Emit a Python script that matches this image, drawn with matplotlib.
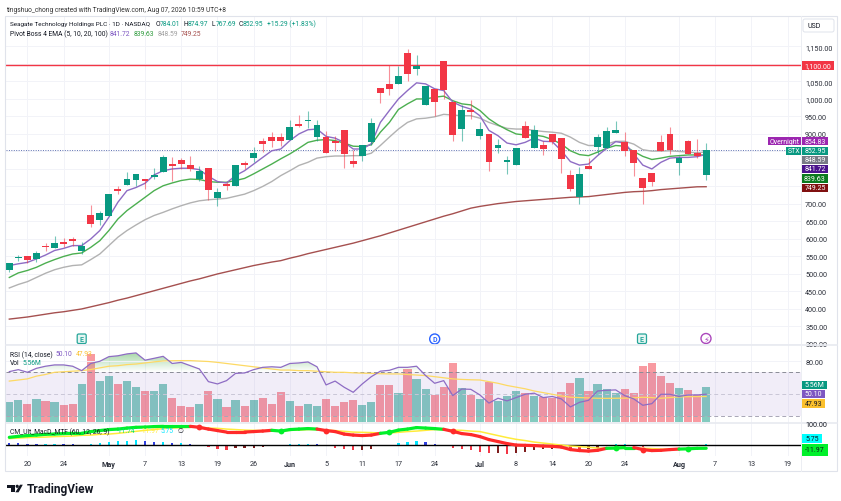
import numpy as np
import matplotlib
matplotlib.use('Agg')
import matplotlib.pyplot as plt
from matplotlib.collections import LineCollection
from matplotlib.colors import LinearSegmentedColormap
from matplotlib.patches import Rectangle, Polygon, Circle, FancyBboxPatch
from matplotlib.path import Path
from matplotlib.ticker import FuncFormatter, StrMethodFormatter

plt.rcParams['font.family'] = ['Roboto', 'DejaVu Sans']

W, H = 841, 502
GREEN = '#089981'
RED = '#f23645'
GRID = '#f2f3f8'
TXT = '#131722'
LEG = 4.85

opens = [512,545,551,543,577,574,592,600,565,668,655,665,743,753,769,770,778,792,814,826,811,771,802,718,757,752,817,830,880,890,892,883,929,938,890,890,881,910,822,837,877,1030,1043,1042,1132,1086,983,1029,1109,992,915,969,895,900,861,819,810,922,860,869,901,888,783,720,808,863,860,904,878,854,773,788,878,900,816,880,846,784.01]
highs = [532,554,551,567,588,608,602,605,590,698,680,728,752,791,786,770,803,840,833,831,838,808,802,745,764,811,824,862,888,905,903,940,954,966,941,909,893,910,854,868,946,1030,1097,1093,1143,1126,1037,1029,1109,992,983,997,935,900,886,837,860,936,927,881,901,888,798,807,830,900,919,937,905,854,773,788,897,921,838,884,886,874.97]
lows = [507,538,531,535,565,574,576,581,557,633,640,665,728,753,752,743,771,792,767,800,795,767,711,695,741,752,800,819,848,862,865,883,919,918,881,847,852,802,806,822,869,989,1011,1042,1052,1069,983,950,1000,881,881,943,886,795,846,786,810,889,860,840,870,789,738,700,800,843,860,904,836,781,700,750,850,843,784,843,831,767.69]
closes = [531,549,540,559,576,589,586,595,579,642,673,728,737,770,786,766,783,834,809,815,800,794,740,733,750,811,811,846,870,879,879,920,924,940,926,847,875,844,815,868,930,1017,1029,1066,1070,1093,1037,992,1025,897,968,963,914,819,868,826,860,889,910,858,876,828,742,787,800,891,909,912,850,816,746,763,850,854,831,843,836,852.95]

ema5 = [524,529,533,543,554,567,573,581,581,600,624,662,705,738,747,759,783,795,800,802,802,798,779,764,760,781,795,814,833,852,857,881,900,912,914,893,888,876,857,857,872,933,967,1000,1024,1046,1043,1029,1024,991,979,971,952,910,895,874,869,876,888,879,878,852,821,811,814,838,859,878,874,843,811,800,819,831,833,833,835,841.72]
ema10 = [490,503,510,519,531,541,550,557,560,576,595,624,657,681,700,719,738,752,760,767,771,770,764,762,762,767,773,786,800,814,829,843,859,876,882,884,881,874,865,864,869,905,933,970,986,1000,1000,1005,1008,995,986,983,967,943,926,912,900,897,897,893,884,871,852,841,838,848,859,867,865,850,836,827,831,836,838,840,840,839.63]
ema20 = [460,470,478,490,502,512,519,524,526,541,557,581,605,624,640,655,667,676,686,695,703,709,712,714,716,722,728,738,750,764,781,795,810,819,831,835,837,837,838,838,845,867,891,914,933,943,945,949,956,954,952,952,945,933,924,916,914,914,910,907,905,902,891,876,867,867,871,879,879,871,855,851,851,852,850,848,846,848.59]
ema100 = [371,374,377,381,385,389,392,396,400,406,412,418,425,431,438,445,452,459,466,473,480,486,493,500,506,512,518,524,529,534,538,545,551,558,564,570,576,582,588,595,602,609,617,625,633,641,649,657,665,672,680,688,693,697,701,704,707,709,711,713,715,717,719,720,721,724,727,730,733,735,736,738,741,743,745,747,749,749.25]

rsi = [70.6,72.4,70,73.6,75.5,76.7,76.7,75.5,71.5,78,80,84.2,85,86.7,87.6,81,82.7,84.5,78,79,76,73,61.5,59.4,62.4,69,69.4,72.4,74.5,75,74.5,78,78.5,79.4,75,58.5,62,56.4,51.8,59.4,66,71,71.8,74.5,74.5,75.5,67,60,62.4,48.8,54.8,54.5,49.4,42,46.4,44,47,50,51,47,48,45.8,38.5,42.7,44.5,53,53.6,54,48.8,45.8,40,41.5,50,50,48,49.4,49.4,50.10]
rsi_ma = [62,63,64,66.5,68,70,70.5,71,71.5,72.5,74,75.5,76,77,77.5,78.5,79.5,80.3,80.5,80.6,80.6,80.2,79.8,79,78,77,76,75,74,73,72,72,71.5,71.5,71,70.5,70,70,69.5,69.2,69,68.7,68.5,68.5,68,67.5,67,66,65,64,63.5,63.2,63,61.5,60,58,56.5,55,53,51.5,50,48.5,47.3,47,46.7,46.4,46.3,46.4,46.5,46.8,47.3,47,46.4,47,47.6,47.8,47.9,47.93]
volume = [3.15,3.46,2.94,3.67,3.31,3.2,2.73,2.94,5.98,10.76,6.46,7.3,6.04,6.46,5.56,4.94,4.94,6.04,3.83,2.57,2.42,2.89,4.94,3.67,2.36,3.52,2.57,3.52,3.83,2.89,4.73,3.36,2.57,2.94,2.57,3.67,2.52,3.2,3.52,2.73,3.2,5.83,5.83,4.62,8.4,6.82,5.25,4.36,5.56,9.29,5.41,4.3,3.67,6.35,3.41,4.15,4.94,4.62,4.1,3.94,3.83,4.78,6.2,6.98,4.88,6.04,5.25,4.62,5.25,4.67,8.93,9.29,7.35,6.2,5.41,5.09,4.36,5.56]

macd = [32,36,39,41,44,45,47,48,48,55,59,63,65,69,72,73,75,76,76,76,76,72,65,59,53,53,53,55,57,60,57,63,65,67,65,59,55,45,41,39,41,48,52,61,65,71,69,67,64,56,47,43,35,23,15,7,1,0,-1,-3,-4,-7,-17,-21,-23,-20,-12,-11,-9,-9,-17,-21,-20,-17,-15,-14,-12,-11.74]
signal = [27,29,31,32,33,35,36,37,40,41,44,45,48,52,56,60,63,67,69,71,72,73,69,68,65,63,61,60,59,60.5,56,60,61,63,63,61,59,56,53,52,51,49,49,52,55,57,60,63,63,61,60,57,55,47,39,31,24,19,13,9,5,1,-3,-5,-8,-11,-11.5,-12,-12,-12,-12,-13,-15,-15,-14.5,-14.5,-12.5,-11.97]
hist = [9.5,9,5,4,4.2,5,4,3.8,3,5,11,15,16,17,20,17,15,15,9,9,5,1,-5,-13,-17,-12,-12,-9,-5,-1,0,4,4.2,4.4,4,-3,-9,-13,-17,-17,-13,-4,3,9,13,17,15,5,0,-9,-15,-20,-25,-31,-31,-33,-31,-27,-20,-16,-15,-11,-15,-16,-16,-9,-3,4,5,0,-5,-4,-1,0,0,1,1,5.75]

date_pos = [2,6,11,15,19,23,27,31,35,39,43,47,52,56,60,64,68,74,78,82,86]
date_labels = ['20','24','May','7','13','19','26','Jun','5','11','17','24','Jul','8','14','20','24','Aug','7','13','19']
months = ['May', 'Jun', 'Jul', 'Aug']
price_ticks = list(range(300, 1151, 50))
hidden_ticks = [750, 800, 850, 1100]

x = np.arange(len(closes))
opens, highs, lows, closes = map(np.array, (opens, highs, lows, closes))
up = closes >= opens
candle_col = [GREEN if u else RED for u in up]


def make_axes(top, bottom):
    ax = fig.add_axes([6 / W, 1 - bottom / H, 795 / W, (bottom - top) / H])
    ax.set_xlim(-0.365, 87.48)
    ax.set_xticks(date_pos)
    ax.set_xticklabels([])
    ax.tick_params(length=0, labelsize=5.2, labelcolor='#2a2e39')
    ax.yaxis.tick_right()
    for s in ax.spines.values():
        s.set_visible(False)
    ax.grid(axis='x', color=GRID, lw=0.7)
    ax.set_axisbelow(True)
    return ax


def price_fmt(v, pos):
    return '' if v in hidden_ticks else f'{v:,.2f}'


fig = plt.figure(figsize=(W / 100, H / 100), dpi=100, facecolor='white')

# price pane
ax = make_axes(17, 346)
ax.set_ylim(297, 1237)
ax.set_yticks(price_ticks)
ax.yaxis.set_major_formatter(FuncFormatter(price_fmt))
ax.tick_params(axis='y', pad=3)
ax.grid(axis='y', color=GRID, lw=0.7)
ax.axhline(1098, color=RED, lw=1.0)
ax.axhline(852.95, color='#5d6fb0', lw=0.7, ls=(0, (1, 1.5)))
ax.plot(x, ema100, color='#a5504f', lw=1.0)
ax.plot(x, ema20, color='#b2b2b2', lw=1.0)
ax.plot(x, ema10, color='#4caf50', lw=1.0)
ax.plot(x, ema5, color='#8e6cc4', lw=1.0)
ax.vlines(x, lows, highs, colors=candle_col, lw=0.8, alpha=0.55, zorder=3)
ax.bar(x, np.maximum(np.abs(closes - opens), 3), bottom=np.minimum(opens, closes), width=0.76, color=candle_col, zorder=4)

# volume and rsi share a pane
vol_ax = make_axes(346, 424)
vol_ax.set_ylim(-0.1, 12.15)
vol_ax.set_yticks([])
vol_ax.bar(x, volume, width=0.9, color=candle_col, alpha=0.5, linewidth=0)

rsi_ax = make_axes(346, 424)
rsi_ax.patch.set_alpha(0)
rsi_ax.grid(False)
rsi_ax.set_ylim(23.9, 94.8)
rsi_ax.set_yticks([80])
rsi_ax.yaxis.set_major_formatter(StrMethodFormatter('{x:,.2f}'))
rsi_ax.tick_params(axis='y', pad=3)
rsi_ax.axhline(80, color=GRID, lw=0.7)
rsi_ax.axhspan(30, 70, color='#7e57c2', alpha=0.1, lw=0)
for lev, c in [(70, '#8a8c96'), (50, '#c9c6d6'), (30, '#a8a6b6')]:
    rsi_ax.axhline(lev, color=c, lw=0.7, ls=(0, (4, 3)))
rsi_arr = np.array(rsi)
poly = rsi_ax.fill_between(x, rsi_arr, 70, where=rsi_arr >= 70, interpolate=True, color='none')
cm = LinearSegmentedColormap.from_list('g', [(0.30, 0.69, 0.31, 0.0), (0.30, 0.69, 0.31, 0.5)])
im = rsi_ax.imshow(np.linspace(0, 1, 64).reshape(-1, 1), extent=[-0.4, 88, 70, 88], origin='lower', aspect='auto', cmap=cm)
im.set_clip_path(Path.make_compound_path(*poly.get_paths()), transform=rsi_ax.transData)
rsi_ax.set_xlim(-0.365, 87.48)
rsi_ax.set_ylim(23.9, 94.8)
rsi_ax.plot(x, rsi_ma, color='#fdd964', lw=0.9)
rsi_ax.plot(x, rsi, color='#8e6cc4', lw=0.9)

# macd pane
m_ax = make_axes(424, 457)
m_ax.set_ylim(-42.7, 89.3)
m_ax.set_yticks([])
m_ax.set_xticklabels(date_labels)
m_ax.tick_params(axis='x', pad=3)
for t in m_ax.get_xticklabels():
    if t.get_text() in months:
        t.set_fontweight('bold')
h_col = []
for i, v in enumerate(hist):
    rising = i > 0 and v >= hist[i - 1]
    if v >= 0:
        h_col.append('#00e5ff' if rising else '#2f3fe0')
    else:
        h_col.append('#7f1d1d' if rising else '#f23645')
m_ax.bar(x, hist, width=0.25, color=h_col)
m_ax.axhline(0, color='black', lw=1.0)
m_ax.plot(x, signal, color='#ffeb3b', lw=1.1)
state = np.array(macd) >= np.array(signal)
pts = np.column_stack([x, macd])
segs = np.stack([pts[:-1], pts[1:]], axis=1)
m_ax.add_collection(LineCollection(segs, colors=['#00f02a' if s else '#ff2a2a' for s in state[1:]], linewidths=2.3, capstyle='round'))
for i in range(1, len(x)):
    if state[i] != state[i - 1]:
        m_ax.plot(x[i], macd[i], 'o', ms=4.2, color='#00f02a' if state[i] else '#ff2a2a', mec='none')

# everything fixed to the layout goes on a pixel overlay
ov = fig.add_axes([0, 0, 1, 1], zorder=10)
ov.set_xlim(0, W)
ov.set_ylim(H, 0)
ov.axis('off')
ov.add_patch(Rectangle((5.5, 17), 832, 455, fill=False, ec='#e0e3eb', lw=0.8))
ov.plot([6, 837], [346, 346], color='#e8eaf0', lw=1.2)
ov.plot([6, 837], [424, 424], color='#e8eaf0', lw=1.2)
ov.plot([801, 801], [17, 472], color='#eceef3', lw=0.7)


def label(px, py, s, color=TXT, size=LEG, **kw):
    ov.text(px, py, s, color=color, fontsize=size, va='center', ha='left', **kw)


def tag(x0, x1, y0, y1, s, bg, fg='white'):
    ov.add_patch(Rectangle((x0, y0), x1 - x0, y1 - y0, fc=bg, ec='none'))
    ov.text((x0 + x1) / 2, (y0 + y1) / 2, s, color=fg, fontsize=5.0, ha='center', va='center')


label(6, 10, 'tingshuo_chong created with TradingView.com, Aug 07, 2026 10:59 UTC+8', color='#333333', size=4.8)
label(10, 24.7, 'Seagate Technology Holdings PLC · 1D · NASDAQ', size=4.6)
for px, s in [(155.7, 'O'), (184, 'H'), (212, 'L'), (238.7, 'C')]:
    label(px, 24.7, s)
for px, s in [(160, '784.01'), (188, '874.97'), (216, '767.69'), (243, '852.95'), (266.7, '+15.29 (+1.83%)')]:
    label(px, 24.7, s, color=GREEN)
label(10, 34.5, 'Pivot Boss 4 EMA (5, 10, 20, 100)')
for px, s, c in [(110, '841.72', '#7e57c2'), (134, '839.63', '#2e9a3c'), (157.5, '848.59', '#a0a0a0'), (181, '749.25', '#a5504f')]:
    label(px, 34.5, s, color=c)
label(10, 355, 'RSI (14, close)')
label(56, 355, '50.10', color='#7e57c2')
label(76, 355, '47.93', color='#fbc02d')
label(10, 364, 'Vol')
label(23, 364, '5.56M', color=GREEN)
label(10, 432, 'CM_Ult_MacD_MTF (60, 12, 26, 9)')
label(117, 432, '-11.74', color='#00e676')
label(141, 432, '-11.97', color='#ffeb3b')
label(161, 432, '5.75', color='#00e5ff')
label(178, 432, '∅')
label(805, 426, '100.00', size=5.2)

ov.add_patch(FancyBboxPatch((803, 20), 31, 13, boxstyle='round,pad=0,rounding_size=2', fc='white', ec='#e0e3eb', lw=0.7))
ov.text(814, 26.5, 'USD', fontsize=5.0, color=TXT, ha='center', va='center')

tag(801.7, 834.3, 61.7, 71, '1,100.00', RED)
tag(767.7, 801, 138, 146.3, 'Overnight', '#9c27b0')
tag(802, 828, 138, 146.3, '854.83', '#9c27b0')
tag(785.7, 801.5, 147.7, 155.7, 'STX', GREEN)
tag(802, 828, 147.7, 155.7, '852.95', GREEN)
tag(802, 828, 156.7, 165, '848.59', '#787b86')
tag(802, 828, 166, 174, '841.72', '#4a148c')
tag(802, 828, 175, 183.7, '839.63', '#0a7a1e')
tag(802, 828, 184.7, 193, '749.25', '#801010')
tag(802, 827, 381.7, 390, '5.56M', GREEN)
tag(802, 825, 391, 399, '50.10', '#7e57c2')
tag(802, 825, 400.3, 408.7, '47.93', '#fbc02d', TXT)
tag(802, 821.7, 435, 444.3, '5.75', '#00ffff', TXT)
tag(802, 828, 445, 456.7, '-11.97', '#00f02a', TXT)

# earnings, dividend and news marks
for px in [81.7, 642]:
    ov.add_patch(FancyBboxPatch((px - 4.5, 335), 9, 9.5, boxstyle='round,pad=0,rounding_size=1.5', fc='#e6f5f2', ec='#26a69a', lw=0.9))
    ov.text(px, 339.8, 'E', color='#26a69a', fontsize=5, fontweight='bold', ha='center', va='center')
ov.add_patch(Circle((434.7, 340), 5, fc='white', ec='#2962ff', lw=1))
ov.text(434.7, 340, 'D', color='#2962ff', fontsize=5, fontweight='bold', ha='center', va='center')
ov.add_patch(Circle((706, 339.5), 5, fc='white', ec='#ab47bc', lw=1))
ov.text(706, 339.5, '⚡', color='#ab47bc', fontsize=6, ha='center', va='center', family='DejaVu Sans')

# logo
ov.add_patch(Polygon([(6.7, 485.7), (15, 485.7), (15, 493.3), (11, 493.3), (11, 488.7), (6.7, 488.7)], fc=TXT, ec='none'))
ov.add_patch(Circle((17.2, 487.3), 1.6, fc=TXT, ec='none'))
ov.add_patch(Polygon([(20, 485.7), (22.8, 485.7), (18.6, 493.3), (15.4, 493.3)], fc=TXT, ec='none'))
ov.text(27, 489.5, 'TradingView', color=TXT, fontsize=8.6, fontweight='bold', va='center', ha='left')

fig.savefig('out.png', dpi=100)
